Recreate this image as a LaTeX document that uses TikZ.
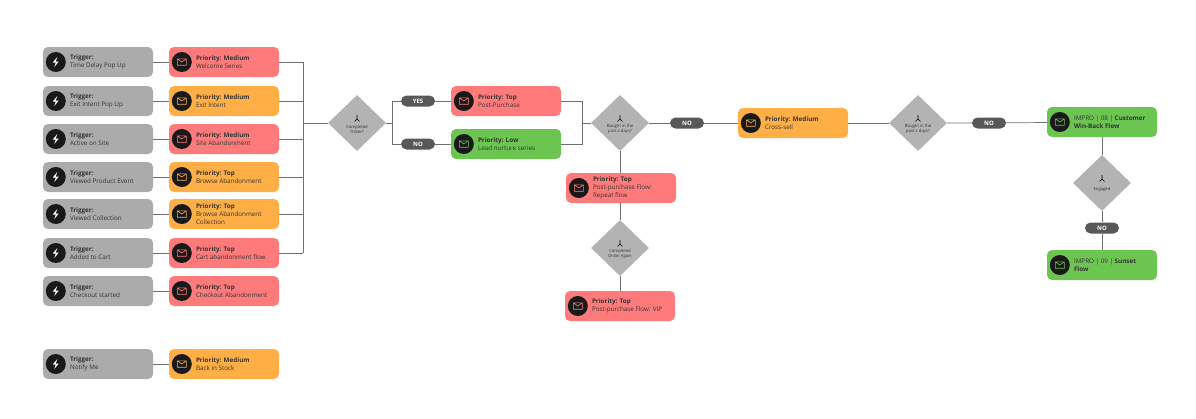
\documentclass[tikz,border=0pt]{standalone}
\usepackage{fontspec}
\setmainfont{Open Sans}
\definecolor{trg}{HTML}{ABABAB}
\definecolor{red}{HTML}{FF7B7B}
\definecolor{org}{HTML}{FFAF45}
\definecolor{grn}{HTML}{6CC551}
\definecolor{dia}{HTML}{B3B3B3}
\definecolor{pill}{HTML}{585858}
\definecolor{ln}{HTML}{707070}
\definecolor{txt}{HTML}{333333}
\tikzset{
 boxst/.style={rounded corners=5pt,minimum width=110pt,minimum height=30pt,inner sep=0pt},
 lbl/.style={anchor=west,align=left,font=\fontsize{6.3}{8}\selectfont,text=txt,inner sep=0pt},
 ico/.style={circle,fill=black!90,minimum size=20pt,inner sep=0pt},
 diast/.style={diamond,fill=dia,minimum width=58pt,minimum height=56pt,inner sep=0pt},
 dtxt/.style={font=\fontsize{4.2}{5}\selectfont,text=txt,align=center,inner sep=0pt},
 pillst/.style={rounded corners=5.5pt,fill=pill,minimum width=34pt,minimum height=11pt,inner sep=0pt,font=\fontsize{6}{6}\bfseries\selectfont,text=white!90},
 wire/.style={draw=ln,line width=0.7pt},
}
\usetikzlibrary{shapes.geometric}
\newcommand\mkbox[6]{%
 \node[boxst,fill=#4] (#1) at (#2,#3) {};
 \node[ico] (#1i) at ([xshift=13pt]#1.west) {};
 \draw[#4,line width=0.6pt] ([xshift=-4.5pt,yshift=-3.2pt]#1i.center) rectangle ([xshift=4.5pt,yshift=3.2pt]#1i.center)
   ([xshift=-4.5pt,yshift=3.2pt]#1i.center) -- (#1i.center) -- ([xshift=4.5pt,yshift=3.2pt]#1i.center);
 \node[lbl] (#1t) at ([xshift=27pt]#1.west) {#5\\#6};}
\newcommand\mktrig[4]{%
 \node[boxst,fill=trg] (#1) at (#2,#3) {};
 \node[ico] (#1i) at ([xshift=13pt]#1.west) {};
 \fill[white] ([xshift=1.5pt,yshift=5pt]#1i.center) -- ([xshift=-3pt,yshift=-0.5pt]#1i.center) -- ([xshift=0pt,yshift=-0.5pt]#1i.center) -- ([xshift=-1.5pt,yshift=-5pt]#1i.center) -- ([xshift=3pt,yshift=0.5pt]#1i.center) -- ([xshift=0pt,yshift=0.5pt]#1i.center) -- cycle;
 \node[lbl] (#1t) at ([xshift=27pt]#1.west) {\textbf{Trigger:}\\#4};}
\newcommand\mkdia[4]{%
 \node[diast] (#1) at (#2,#3) {};
 \draw[black,line width=0.6pt] ([yshift=8pt]#1.center) -- ([yshift=4pt]#1.center) -- ([xshift=-2.5pt,yshift=1.5pt]#1.center) ([yshift=4pt]#1.center) -- ([xshift=2.5pt,yshift=1.5pt]#1.center);
 \node[dtxt] (#1t) at ([yshift=-6pt]#1.center) {#4};}
\begin{document}
\begin{tikzpicture}[x=1pt,y=-1pt]
\useasboundingbox (0,0) rectangle (1196,418);
% triggers
\mktrig{t1}{98}{62}{Time Delay Pop Up}
\mktrig{t2}{98}{101}{Exit Intent Pop Up}
\mktrig{t3}{98}{139}{Active on Site}
\mktrig{t4}{98}{177}{Viewed Product Event}
\mktrig{t5}{98}{214}{Viewed Collection}
\mktrig{t6}{98}{253}{Added to Cart}
\mktrig{t7}{98}{291}{Checkout started}
\mktrig{t8}{98}{364}{Notify Me}
\mkbox{p1}{224}{62}{red}{\textbf{Priority: Medium}}{Welcome Series}
\mkbox{p2}{224}{101}{org}{\textbf{Priority: Medium}}{Exit Intent}
\mkbox{p3}{224}{139}{red}{\textbf{Priority: Medium}}{Site Abandonment}
\mkbox{p4}{224}{177}{org}{\textbf{Priority: Top}}{Browse Abandonment}
\mkbox{p5}{224}{214}{org}{\textbf{Priority: Top}}{Browse Abandonment\\Collection}
\mkbox{p6}{224}{253}{red}{\textbf{Priority: Top}}{Cart abandonment flow}
\mkbox{p7}{224}{291}{red}{\textbf{Priority: Top}}{Checkout Abandonment}
\mkbox{p8}{224}{364}{org}{\textbf{Priority: Medium}}{Back in Stock}
\foreach \i in {1,...,8}{\draw[wire] (t\i) -- (p\i);}
% bus
\coordinate (b1) at (303,62);
\coordinate (b6) at (303,253);
\coordinate (bm) at (303,123);
\draw[wire] (b1) -- (b6);
\foreach \i in {1,...,6}{\draw[wire] (p\i.east) -- (303,0 |- p\i.east);}
\mkdia{d1}{357}{123}{Completed\\Order?}
\draw[wire] (bm) -- (d1.west);
\mkbox{pp}{506}{101}{red}{\textbf{Priority: Top}}{Post-Purchase}
\mkbox{ln}{506}{144}{grn}{\textbf{Priority: Low}}{Lead nurture series}
\node[pillst] (yes) at (418,101) {YES};
\node[pillst] (no1) at (418,144) {NO};
\coordinate (s1) at (392,123);
\draw[wire] (d1.east) -- (s1) (392,101) -- (392,144) (392,101) -- (yes) -- (pp) (392,144) -- (no1) -- (ln);
\mkdia{d2}{620}{123}{Bought in the\\past x days?}
\draw[wire] (pp.east) -| (582,144) -- (ln.east) (582,123) -- (d2.west);
\node[pillst] (no2) at (687,123) {NO};
\mkbox{cs}{793}{123}{org}{\textbf{Priority: Medium}}{Cross-sell}
\draw[wire] (d2.east) -- (no2) -- (cs);
\mkdia{d3}{918}{123}{Bought in the\\past x days?}
\draw[wire] (cs) -- (d3);
\node[pillst] (no3) at (989,123) {NO};
\mkbox{wb}{1102}{122}{grn}{IMPRO | 08 | \textbf{Customer}}{\textbf{Win-Back Flow}}
\draw[wire] (d3.east) -- (no3) -- (wb);
\mkdia{d4}{1102}{183}{Engaged}
\node[pillst] (no4) at (1102,228) {NO};
\mkbox{sf}{1102}{265}{grn}{IMPRO | 09 | \textbf{Sunset}}{\textbf{Flow}}
\draw[wire] (wb) -- (d4) -- (no4) -- (sf);
\mkbox{rf}{621}{188}{red}{\textbf{Priority: Top}}{Post-purchase Flow:\\Repeat flow}
\mkdia{d5}{620}{248}{Completed\\Order Again}
\mkbox{vip}{620}{306}{red}{\textbf{Priority: Top}}{Post-purchase Flow: VIP}
\draw[wire] (d2.south) -- (d2.south |- rf.north) (rf.south -| d5) -- (d5.north) (d5.south) -- (d5.south |- vip.north);
\end{tikzpicture}
\end{document}
